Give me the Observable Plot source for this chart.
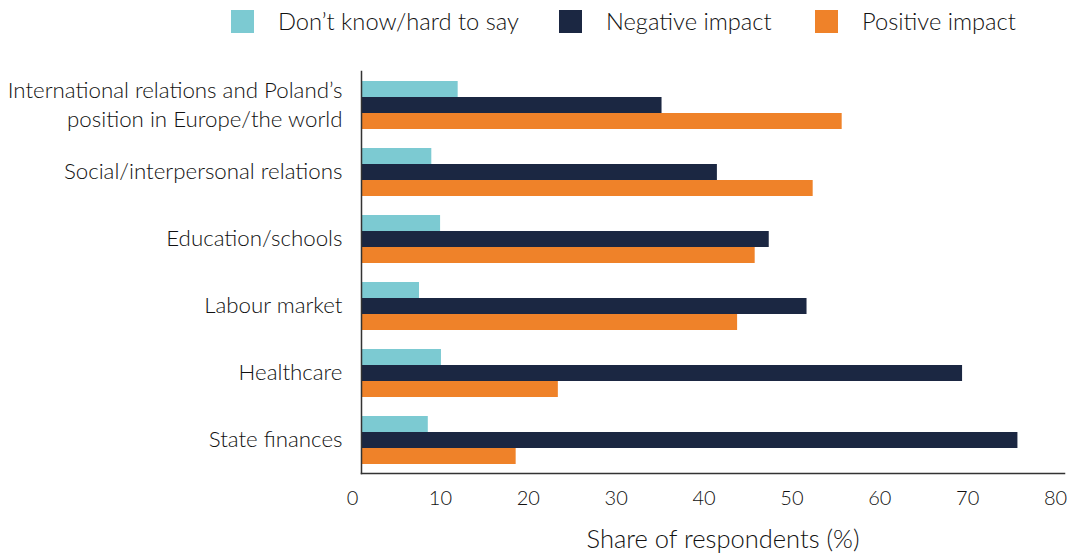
<!DOCTYPE html>
<html>
<head>
<meta charset="utf-8">
<script src="https://cdn.jsdelivr.net/npm/d3@7"></script>
<script src="https://cdn.jsdelivr.net/npm/@observablehq/plot@0.6"></script>
<style>
  body { margin: 0; background: #fff; font-family: Lato, "Open Sans", sans-serif; color: #111; }
  #legend { position: relative; height: 40px; width: 1077px; }
  .item { position: absolute; top: 7px; display: flex; align-items: center; font-size: 23.7px; font-weight: 300; white-space: nowrap; }
  .sw { width: 23px; height: 23px; display: inline-block; }
  #chart svg { display: block; font-weight: 300; }
</style>
</head>
<body>
<div id="legend"></div>
<div id="chart"></div>
<script>
const categories = [
  "International relations and Poland’s position in Europe/the world",
  "Social/interpersonal relations",
  "Education/schools",
  "Labour market",
  "Healthcare",
  "State finances"
];
const series = ["Don’t know/hard to say", "Negative impact", "Positive impact"];
const dontKnow = [11.0, 8.0, 9.0, 6.6, 9.1, 7.6];
const negative = [34.2, 40.5, 46.4, 50.7, 68.4, 74.7];
const positive = [54.7, 51.4, 44.8, 42.8, 22.4, 17.6];
const xTicks = [0, 10, 20, 30, 40, 50, 60, 70, 80];
const colors = ["#7ccad2", "#1b2742", "#ef8229"];

const data = [];
categories.forEach((c, i) => {
  data.push({category: c, series: series[0], value: dontKnow[i]});
  data.push({category: c, series: series[1], value: negative[i]});
  data.push({category: c, series: series[2], value: positive[i]});
});

// legend
const legendPos = [231, 559, 815];
const legend = document.getElementById("legend");
series.forEach((s, i) => {
  const it = document.createElement("div");
  it.className = "item";
  it.style.left = legendPos[i] + "px";
  it.innerHTML = `<span class="sw" style="background:${colors[i]}"></span><span style="margin-left:24px">${s}</span>`;
  legend.appendChild(it);
});

const labelFmt = d => d === categories[0]
  ? "International relations and Poland’s\nposition in Europe/the world" : d;

const chart = Plot.plot({
  width: 1077,
  height: 518,
  marginLeft: 361,
  marginRight: 13,
  marginTop: 31,
  marginBottom: 85,
  style: {fontFamily: "Lato, 'Open Sans', sans-serif", fontSize: "20px", color: "#111", background: "#fff"},
  x: {domain: [0, 80], ticks: xTicks, label: null},
  y: {domain: series, axis: null, paddingInner: 0, paddingOuter: 0.5},
  fy: {domain: categories, padding: 0, label: null, axis: null},
  color: {domain: series, range: colors},
  marks: [
    Plot.barX(data, {fy: "category", y: "series", x: "value", fill: "series"}),
    Plot.axisFy({anchor: "left", tickSize: 0, tickPadding: 19, dy: -2, tickFormat: labelFmt, fontSize: 22.3, lineHeight: 1.3, label: null, fill: "#111"}),
    Plot.axisX({ticks: xTicks, tickSize: 0, tickPadding: 17, dx: -9, fontSize: 20, label: null, fill: "#111"}),
    Plot.frame({anchor: "left", facet: "super", stroke: "#333", strokeWidth: 1.5}),
    Plot.frame({anchor: "bottom", facet: "super", stroke: "#333", strokeWidth: 1.5}),
    Plot.text(["Share of respondents (%)"], {frameAnchor: "bottom", dx: 10, dy: 74, facet: "super", fontSize: 25.5, fill: "#111"})
  ]
});
document.getElementById("chart").appendChild(chart);
</script>
</body>
</html>
